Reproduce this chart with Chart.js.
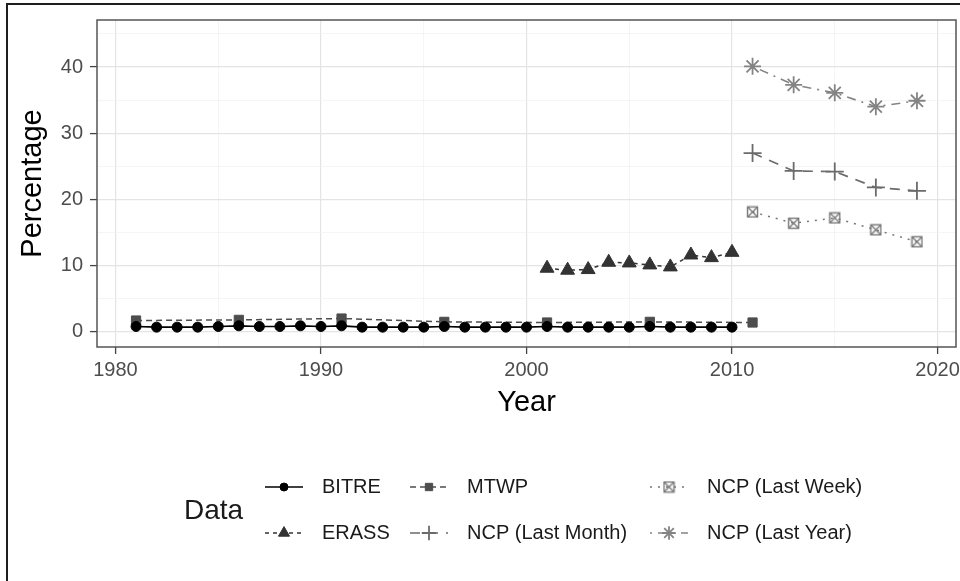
<!DOCTYPE html>
<html>
<head>
<meta charset="utf-8">
<script src="https://cdn.jsdelivr.net/npm/chart.js@4/dist/chart.umd.min.js"></script>
<style>
  html, body { margin: 0; padding: 0; background: #fff; }
  #wrap { position: relative; width: 960px; height: 581px; overflow: hidden; }
  #frame { position: absolute; left: 6px; top: 3px; width: 980px; height: 600px;
           border-left: 2px solid #1e1e1e; border-top: 2px solid #1e1e1e; pointer-events: none; }
  canvas { position: absolute; left: 0; top: 0; }
</style>
</head>
<body>
<div id="wrap">
  <canvas id="chart" width="960" height="581"></canvas>
  <div id="frame"></div>
</div>
<script>
// data

const bitreYears = [1981, 1982, 1983, 1984, 1985, 1986, 1987, 1988, 1989, 1990,
                    1991, 1992, 1993, 1994, 1995, 1996, 1997, 1998, 1999, 2000,
                    2001, 2002, 2003, 2004, 2005, 2006, 2007, 2008, 2009, 2010]
const bitreValues = [0.8, 0.7, 0.7, 0.7, 0.8, 0.9, 0.8, 0.8, 0.9, 0.8,
                     0.9, 0.7, 0.7, 0.7, 0.7, 0.8, 0.7, 0.7, 0.7, 0.7,
                     0.8, 0.7, 0.7, 0.7, 0.7, 0.8, 0.7, 0.7, 0.7, 0.7]

const mtwpYears  = [1981, 1986, 1991, 1996, 2001, 2006, 2011]
const mtwpValues = [1.7, 1.8, 2.0, 1.5, 1.4, 1.5, 1.4]

const erassYears  = [2001, 2002, 2003, 2004, 2005, 2006, 2007, 2008, 2009, 2010]
const erassValues = [9.6, 9.3, 9.4, 10.5, 10.4, 10.1, 9.8, 11.6, 11.2, 12.0]

const ncpYears      = [2011, 2013, 2015, 2017, 2019]
const ncpMonth      = [27.0, 24.3, 24.2, 21.8, 21.3]
const ncpWeek       = [18.1, 16.4, 17.2, 15.4, 13.6]
const ncpYear       = [40.1, 37.3, 36.1, 34.0, 34.9]

const xTickLabels = [1980, 1990, 2000, 2010, 2020]
const yTickLabels = [0, 10, 20, 30, 40]

const FONT = '"Liberation Sans", Arial, sans-serif'

const pairs = (xs, ys) => xs.map((x, i) => ({ x: x, y: ys[i] }))

// ggplot shape 7: square with a cross in it
function boxCross(color) {
  const c = document.createElement('canvas')
  c.width = 13; c.height = 13
  const g = c.getContext('2d')
  g.strokeStyle = color
  g.lineWidth = 1.4
  g.strokeRect(1.5, 1.5, 10, 10)
  g.beginPath()
  g.moveTo(1.5, 1.5); g.lineTo(11.5, 11.5)
  g.moveTo(11.5, 1.5); g.lineTo(1.5, 11.5)
  g.stroke()
  return c
}

const weekIcon = boxCross('#777')

// legend slot for each dataset: [column, row]
const legendSlots = [[0, 0], [1, 0], [0, 1], [1, 1], [2, 0], [2, 1]]
const legendCols = [265, 410, 650]
const legendRows = [487, 533]

const datasets = [
  { label: 'BITRE', data: pairs(bitreYears, bitreValues), borderColor: '#000', backgroundColor: '#000',
    borderWidth: 1.7, pointStyle: 'circle', pointRadius: 5, borderDash: [] },
  { label: 'MTWP', data: pairs(mtwpYears, mtwpValues), borderColor: '#4d4d4d', backgroundColor: '#4d4d4d',
    borderWidth: 1.5, pointStyle: 'rect', pointRadius: 6.5, borderDash: [6, 4] },
  { label: 'ERASS', data: pairs(erassYears, erassValues), borderColor: '#333', backgroundColor: '#333',
    borderWidth: 1.5, pointStyle: 'triangle', pointRadius: 8, borderDash: [4, 4] },
  { label: 'NCP (Last Month)', data: pairs(ncpYears, ncpMonth), borderColor: '#6b6b6b', backgroundColor: '#6b6b6b',
    borderWidth: 1.7, pointStyle: 'cross', pointRadius: 9, borderDash: [10, 8] },
  { label: 'NCP (Last Week)', data: pairs(ncpYears, ncpWeek), borderColor: '#777', backgroundColor: '#777',
    borderWidth: 1.5, pointStyle: weekIcon, pointRadius: 6.5, borderDash: [2, 6] },
  { label: 'NCP (Last Year)', data: pairs(ncpYears, ncpYear), borderColor: '#848484', backgroundColor: '#848484',
    borderWidth: 1.6, pointStyle: 'star', pointRadius: 8.5, borderDash: [2, 6, 9, 6] },
]

datasets.forEach(d => {
  d.pointBorderWidth = d.pointStyle === 'cross' || d.pointStyle === 'star' ? 1.8 : 1
  d.pointHoverRadius = d.pointRadius
  d.tension = 0
  d.fill = false
})

const panelBorder = {
  id: 'panelBorder',
  afterDatasetsDraw(chart) {
    const { ctx, chartArea: a } = chart
    ctx.save()
    ctx.strokeStyle = '#555'
    ctx.lineWidth = 1.5
    ctx.strokeRect(a.left, a.top, a.right - a.left, a.bottom - a.top)
    ctx.restore()
  }
}

const ggLegend = {
  id: 'ggLegend',
  afterDraw(chart) {
    const ctx = chart.ctx
    ctx.save()
    ctx.textBaseline = 'middle'
    ctx.fillStyle = '#1a1a1a'
    ctx.font = '28px ' + FONT
    ctx.fillText('Data', 184, 511)

    chart.data.datasets.forEach((ds, i) => {
      const x = legendCols[legendSlots[i][0]]
      const y = legendRows[legendSlots[i][1]]
      ctx.save()
      ctx.strokeStyle = ds.borderColor
      ctx.lineWidth = ds.borderWidth
      ctx.setLineDash(ds.borderDash)
      ctx.beginPath()
      ctx.moveTo(x, y); ctx.lineTo(x + 38, y)
      ctx.stroke()
      ctx.setLineDash([])
      ctx.fillStyle = ds.backgroundColor
      ctx.lineWidth = ds.pointBorderWidth
      Chart.helpers.drawPoint(ctx, {
        pointStyle: ds.pointStyle, radius: ds.pointRadius * 0.8,
        borderWidth: ds.pointBorderWidth, rotation: 0
      }, x + 19, y)
      ctx.restore()
      ctx.fillStyle = '#1a1a1a'
      ctx.font = '20px ' + FONT
      ctx.fillText(ds.label, x + 57, y)
    })
    ctx.restore()
  }
}

const isMajor = v => Math.abs(v % 10) < 1e-6

new Chart(document.getElementById('chart'), {
  type: 'line',
  data: { datasets: datasets },
  plugins: [panelBorder, ggLegend],
  options: {
    responsive: false,
    animation: false,
    layout: { autoPadding: false, padding: { left: 10, top: 20, right: 4, bottom: 158.6 } },
    plugins: { legend: { display: false }, tooltip: { enabled: false } },
    scales: {
      x: {
        type: 'linear',
        min: 1979.1, max: 2020.9,
        afterFit: s => { s.height = 75.4; s.paddingRight = 0; s.paddingLeft = 0 },
        border: { display: false },
        grid: {
          color: c => isMajor(c.tick.value) ? '#e4e4e4' : '#f0f0f0',
          lineWidth: c => isMajor(c.tick.value) ? 1.2 : 0.7,
          tickColor: c => isMajor(c.tick.value) ? '#444' : 'rgba(0,0,0,0)',
          tickLength: 7, tickWidth: 1.3
        },
        ticks: {
          stepSize: 5, includeBounds: false, maxRotation: 0, autoSkip: false, padding: 4,
          color: '#4d4d4d', font: { family: FONT, size: 20 },
          callback: v => xTickLabels.includes(v) ? String(v) : ''
        },
        title: { display: true, text: 'Year', color: '#000',
                 font: { family: FONT, size: 29 }, padding: { top: 0, bottom: 2 } }
      },
      y: {
        min: -2.3, max: 47.1,
        afterFit: s => { s.width = 87; s.paddingTop = 0; s.paddingBottom = 0 },
        border: { display: false },
        grid: {
          color: c => isMajor(c.tick.value) ? '#e4e4e4' : '#f0f0f0',
          lineWidth: c => isMajor(c.tick.value) ? 1.2 : 0.7,
          tickColor: c => isMajor(c.tick.value) ? '#444' : 'rgba(0,0,0,0)',
          tickLength: 7, tickWidth: 1.3
        },
        ticks: {
          stepSize: 5, includeBounds: false, autoSkip: false, padding: 7,
          color: '#4d4d4d', font: { family: FONT, size: 20 },
          callback: v => yTickLabels.includes(v) ? String(v) : ''
        },
        title: { display: true, text: 'Percentage', color: '#000',
                 font: { family: FONT, size: 29 }, padding: { top: 5.6, bottom: 0 } }
      }
    }
  }
})
</script>
</body>
</html>
